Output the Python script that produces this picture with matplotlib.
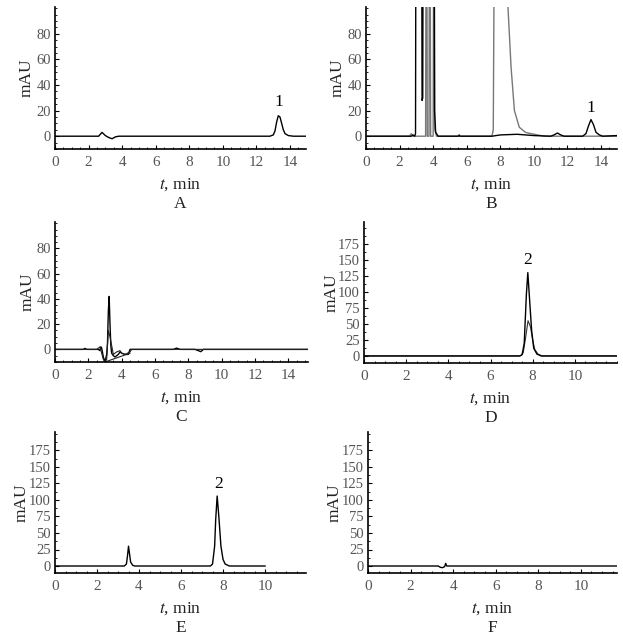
import numpy as np
import matplotlib
matplotlib.use("Agg")
import matplotlib.pyplot as plt
from matplotlib.ticker import MultipleLocator

plt.rcParams["font.family"] = ["Liberation Serif", "DejaVu Serif"]
plt.rcParams["mathtext.fontset"] = "stix"

# --- chromatogram traces (t in min, signal in mAU) ---
a_t = [0, 2.6, 2.8, 3.0, 3.2, 3.4, 3.6, 3.8, 11.3, 12.8, 13.0, 13.1, 13.2, 13.3, 13.4, 13.5, 13.6, 13.7, 13.9, 14.2, 14.95]
a_y = [0, 0, 3, 0.5, -1, -2, -0.5, 0, 0, 0, 1, 4, 11, 16, 15, 10, 5, 2, 0.5, 0, 0]

b1_t = [0, 2.7, 2.8, 2.9, 2.95, 3.0, 3.28, 3.34, 3.38, 3.42, 3.5, 3.58, 3.7, 3.9, 4.02, 4.08, 4.15, 4.3, 5.0, 5.5,
        5.55, 5.6, 7.5, 8.0, 9.0, 10.0, 11.0, 11.2, 11.4, 11.6, 11.8, 12.9, 13.1, 13.25, 13.4, 13.55, 13.7, 13.9, 14.1, 14.95]
b1_y = [0, 0, 1, 0, 2, 400, 400, 28, 30, 300, 300, 400, 400, 400, 400, 20, 3, 0, 0, 0,
        1, 0, 0, 1, 1.5, 0.5, 0, 1, 2.5, 1, 0, 0, 2, 8, 13, 9, 3, 1, 0, 0.5]
b2_t = [0, 2.6, 2.7, 2.8, 3.55, 3.6, 3.65, 3.75, 3.8, 3.85, 4.0, 4.05, 4.1, 4.2, 4.6, 7.5, 7.58,
        7.64, 7.72, 8.4, 8.46, 8.64, 8.84, 9.13, 9.5, 9.83, 10.6, 14.95]
b2_y = [0, 0, 2, 0, 0, 300, 0, 0, 300, 0, 0, 300, 5, 0, 0, 0, 5,
        150, 300, 300, 100, 54, 20, 7, 3, 2, 0, 0]

c1_t = [0, 1.7, 1.8, 1.9, 2.6, 2.7, 2.75, 2.8, 2.9, 3.0, 3.1, 3.15, 3.2, 3.25, 3.3, 3.35, 3.4, 3.5, 3.6,
        3.8, 3.9, 4.0, 4.2, 4.4, 4.5, 4.6, 7.1, 7.3, 7.5, 8.4, 8.6, 8.75, 8.9, 15.2]
c1_y = [0, 0, 0.8, 0, 0, -1, 2, 1, -6, -10, -4, 5, 30, 42, 20, 3, -3, -5, -6,
        -4, -2, -3, -4, -4, 0, 0, 0, 1, 0, 0, -1, -1.8, 0, 0]
c2_t = [0, 2.5, 2.7, 2.8, 2.9, 3.0, 3.1, 3.2, 3.3, 3.5, 3.7, 3.9, 4.0, 4.2, 4.5, 4.6, 15.2]
c2_y = [0, 0, 2, -3, -8, -10, -8, 15, 10, -4, -2, -1, -3, -4, -2, 0, 0]
c3_t = [3.0, 4.5]
c3_y = [-10, -3]

d1_t = [0, 7.4, 7.5, 7.6, 7.7, 7.77, 7.85, 7.95, 8.05, 8.2, 8.4, 12]
d1_y = [0, 0, 2, 20, 95, 130, 90, 40, 12, 3, 0, 0]
d2_t = [0, 7.35, 7.45, 7.55, 7.65, 7.78, 7.9, 8.0, 8.1, 8.25, 8.45, 12]
d2_y = [0, 0, 1, 5, 25, 55, 45, 25, 10, 3, 0, 0]

e_t = [0, 3.3, 3.4, 3.45, 3.5, 3.55, 3.6, 3.7, 3.8, 7.4, 7.5, 7.6, 7.65, 7.72, 7.8, 7.9, 8.0, 8.1, 8.3, 10]
e_y = [0, 0, 3, 15, 30, 18, 6, 1, 0, 0, 3, 30, 70, 106, 75, 30, 10, 3, 0, 0]

f_t = [0, 3.3, 3.4, 3.5, 3.6, 3.65, 3.7, 3.8, 11.7]
f_y = [0, 0, -2, -2.5, -1, 4, 0, 0, 0]

ticks_small = [0, 20, 40, 60, 80]
ticks_big = [0, 25, 50, 75, 100, 125, 150, 175]
xticks_15 = [0, 2, 4, 6, 8, 10, 12, 14]
xticks_12 = [0, 2, 4, 6, 8, 10]

W, H = 623, 637
fig = plt.figure(figsize=(W / 100, H / 100), dpi=100)


def make_ax(left, right, top, bottom):
    return fig.add_axes([left / W, 1 - bottom / H, (right - left) / W, (bottom - top) / H])


def style(ax, xlim, ylim, xt, yt, yminor, letter, ylab_dx=28):
    ax.set_xlim(*xlim)
    ax.set_ylim(*ylim)
    ax.set_xticks(xt)
    ax.set_yticks(yt)
    ax.xaxis.set_minor_locator(MultipleLocator(0.5))
    ax.yaxis.set_minor_locator(MultipleLocator(yminor))
    for s in ["top", "right"]:
        ax.spines[s].set_visible(False)
    for s in ["left", "bottom"]:
        ax.spines[s].set_linewidth(1.2)
    ax.tick_params(which="major", direction="in", length=3, labelsize=11, labelcolor="#555555", pad=5)
    ax.tick_params(axis="y", labelsize=10.5, pad=3)
    ax.tick_params(which="minor", direction="in", length=1.5)
    # labels placed by pixel offset from the axes corner
    ax.annotate("mAU", xy=(0, 0.5), xycoords="axes fraction", xytext=(-ylab_dx * 0.72, 0),
                textcoords="offset points", rotation=90, ha="center", va="center",
                fontsize=12.5, color="#222222")
    ax.annotate("$\\it{t}$" + ", min", xy=(0.5, 0), xycoords="axes fraction", xytext=(0, -36 * 0.72),
                textcoords="offset points", ha="center", va="center", fontsize=12.5, color="#222222")
    ax.annotate(letter, xy=(0.5, 0), xycoords="axes fraction", xytext=(0, -55 * 0.72),
                textcoords="offset points", ha="center", va="center", fontsize=12.5, color="#222222")


axA = make_ax(55, 306, 7, 149)
axA.plot(a_t, a_y, color="black", lw=1)
axA.text(13.35, 27, "1", ha="center", va="center", fontsize=12.5)
style(axA, (0, 14.95), (-10, 101), xticks_15, ticks_small, 5, "A")

axB = make_ax(366, 617, 7, 149)
axB.plot(b2_t, b2_y, color="#777777", lw=1)
axB.plot(b1_t, b1_y, color="black", lw=1)
axB.text(13.4, 22, "1", ha="center", va="center", fontsize=12.5)
style(axB, (0, 14.95), (-10, 101), xticks_15, ticks_small, 5, "B", 28)

axC = make_ax(55, 308, 222, 362)
axC.plot(c1_t, c1_y, color="black", lw=1)
axC.plot(c2_t, c2_y, color="#222222", lw=0.8)
axC.plot(c3_t, c3_y, color="#222222", lw=0.8)
style(axC, (0, 15.18), (-10, 101), xticks_15, ticks_small, 5, "C", 27)

axD = make_ax(364, 617, 222, 363)
axD.plot(d2_t, d2_y, color="#333333", lw=0.8)
axD.plot(d1_t, d1_y, color="black", lw=1)
axD.text(7.77, 149, "2", ha="center", va="center", fontsize=12.5)
style(axD, (0, 12.0), (-11, 209), xticks_12, ticks_big, 12.5, "D", 32)

axE = make_ax(55, 306, 432, 573)
axE.plot(e_t, e_y, color="black", lw=1)
axE.text(7.78, 124, "2", ha="center", va="center", fontsize=12.5)
style(axE, (0, 11.95), (-10.6, 203), xticks_12, ticks_big, 12.5, "E", 33)

axF = make_ax(368, 617, 432, 573)
axF.plot(f_t, f_y, color="black", lw=1)
style(axF, (0, 11.7), (-10.6, 203), xticks_12, ticks_big, 12.5, "F", 33)

fig.savefig("out.png", dpi=100)
